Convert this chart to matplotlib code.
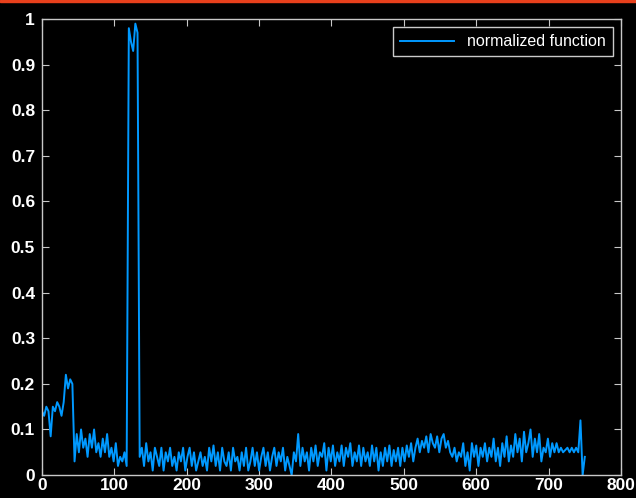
import numpy as np
import matplotlib
matplotlib.use("Agg")
import matplotlib.pyplot as plt
from matplotlib.patches import Rectangle

step = 3
values = [
    0.14, 0.13, 0.15, 0.14, 0.085, 0.15, 0.14, 0.16, 0.15, 0.13, 0.16, 0.22, 0.19, 0.21, 0.2, 0.03,
    0.09, 0.05, 0.1, 0.06, 0.08, 0.04, 0.09, 0.06, 0.1, 0.05, 0.07, 0.04,
    0.08, 0.05, 0.09, 0.04, 0.06, 0.03, 0.07, 0.02, 0.04, 0.03, 0.05, 0.02,
    0.98, 0.95, 0.93, 0.99, 0.97,
    0.04,
    0.06, 0.02, 0.07, 0.03, 0.05, 0.01, 0.06, 0.04, 0.02, 0.06,
    0.01, 0.05, 0.03, 0.06, 0.02, 0.04, 0.01, 0.05, 0.03, 0.06,
    0.01, 0.04, 0.06, 0.02, 0.05, 0.01, 0.03, 0.05, 0.02, 0.04,
    0.01, 0.06, 0.03, 0.065, 0.02, 0.05, 0.01, 0.06, 0.03, 0.02,
    0.05, 0.01, 0.06, 0.03, 0.04, 0.01, 0.05, 0.02, 0.06, 0.01,
    0.03, 0.06, 0.02, 0.05, 0.01, 0.04, 0.06, 0.02, 0.05, 0.01,
    0.04, 0.06, 0.02, 0.05, 0.03, 0.06, 0.01, 0.04, 0.02, 0.0,
    0.05, 0.03, 0.09, 0.02, 0.06, 0.03, 0.05, 0.01, 0.06, 0.03,
    0.065, 0.02, 0.05, 0.04, 0.07, 0.01, 0.06, 0.03, 0.065, 0.02,
    0.05, 0.03, 0.065, 0.02, 0.06, 0.04, 0.07, 0.02, 0.05, 0.03,
    0.065, 0.02, 0.06, 0.03, 0.05, 0.02, 0.065, 0.03, 0.06, 0.01,
    0.05, 0.02, 0.06, 0.03, 0.065, 0.02, 0.055, 0.03, 0.06, 0.02,
    0.06, 0.03, 0.065, 0.04, 0.07, 0.03, 0.06, 0.08, 0.05, 0.075,
    0.06, 0.085, 0.05, 0.09, 0.07, 0.06, 0.085, 0.05, 0.08, 0.09,
    0.06, 0.075, 0.05, 0.04, 0.06, 0.03, 0.05, 0.04, 0.07, 0.02,
    0.05, 0.01, 0.07, 0.04, 0.065, 0.02, 0.06, 0.04, 0.07, 0.03,
    0.06, 0.04, 0.08, 0.03, 0.06, 0.02, 0.07, 0.04, 0.085, 0.03,
    0.065, 0.04, 0.09, 0.05, 0.08, 0.03, 0.095, 0.05, 0.07, 0.1,
    0.04, 0.08, 0.05, 0.09, 0.03, 0.06, 0.05, 0.08, 0.04, 0.07,
    0.05, 0.07, 0.05, 0.06, 0.05, 0.055, 0.06, 0.05, 0.06, 0.05,
    0.06, 0.05, 0.12, 0.0, 0.04,
]
x = np.arange(len(values)) * step

xticks = [0, 100, 200, 300, 400, 500, 600, 700, 800]
yticks = [0, 0.1, 0.2, 0.3, 0.4, 0.5, 0.6, 0.7, 0.8, 0.9, 1]
ylabels = ["0", "0.1", "0.2", "0.3", "0.4", "0.5", "0.6", "0.7", "0.8", "0.9", "1"]

plt.rcParams['font.family'] = ['Liberation Sans', 'DejaVu Sans']

fig = plt.figure(figsize=(6.36, 4.98), dpi=100, facecolor="black")
ax = fig.add_axes([0.066, 0.046, 0.9104, 0.9157], facecolor="black")
ax.plot(x, values, color="#0099ff", linewidth=1.4, label="normalized function")

ax.set_xlim(0, 800)
ax.set_ylim(0, 1)
ax.set_xticks(xticks)
ax.set_yticks(yticks)
ax.set_yticklabels(ylabels)
for s in ax.spines.values():
    s.set_color("#c8c8c8")
    s.set_linewidth(1)
ax.tick_params(direction="in", length=5, color="#c8c8c8", top=True, right=True,
               labelcolor="white", labelsize=12.5)
for lab in ax.get_xticklabels() + ax.get_yticklabels():
    lab.set_fontweight("bold")
ax.tick_params(axis="x", pad=2)
ax.tick_params(axis="y", pad=5)

leg = ax.legend(loc="upper right", fontsize=11.5, frameon=True, fancybox=False,
                facecolor="black", edgecolor="white", borderaxespad=0.5,
                borderpad=0.45, handlelength=3.4)
for t in leg.get_texts():
    t.set_color("white")
leg.get_frame().set_linewidth(1)

# thin red border at the top of the window
fig.add_artist(Rectangle((0, 1 - 2 / 498), 1, 2 / 498, transform=fig.transFigure,
                         color="#e8401c", zorder=10))

fig.savefig("out.png", dpi=100, facecolor="black")
